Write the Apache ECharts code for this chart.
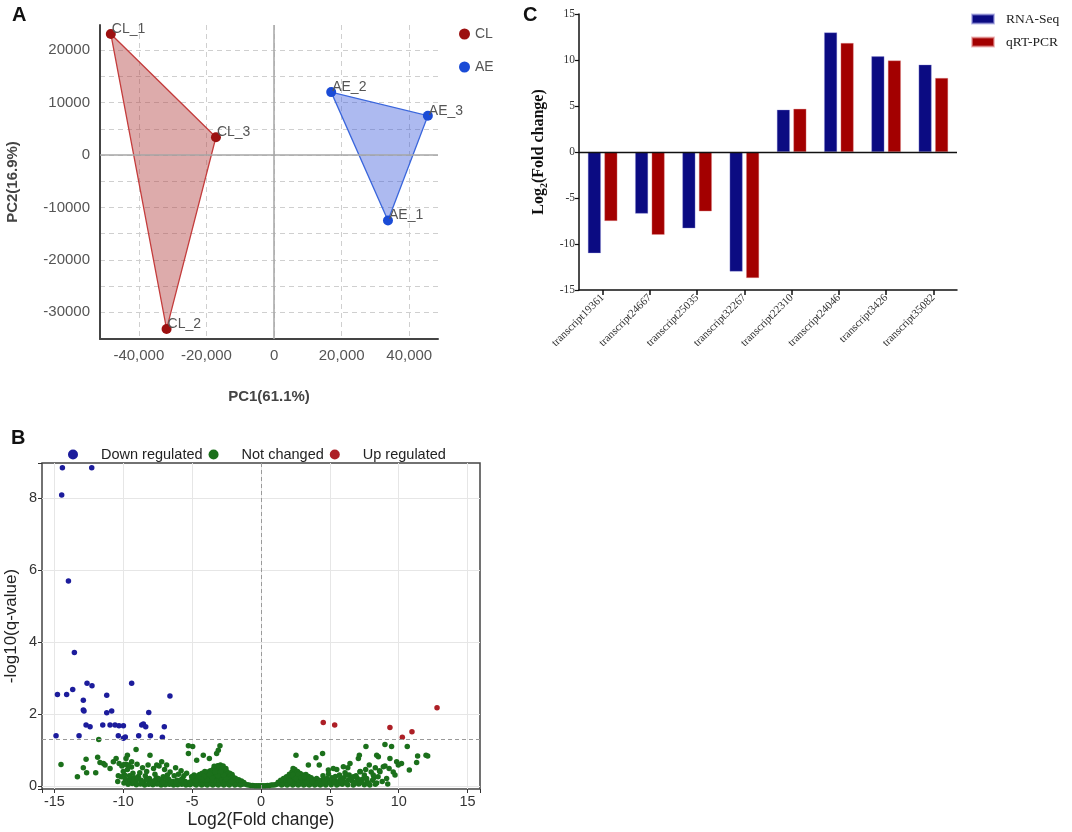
<!DOCTYPE html>
<html>
<head>
<meta charset="utf-8">
<title>PCA / volcano / qRT-PCR</title>
<script src="https://cdn.jsdelivr.net/npm/echarts@6.0.0/dist/echarts.min.js"></script>
<style>
  html, body { margin: 0; padding: 0; background: #fff; }
  #chart { width: 1072px; height: 832px; }
</style>
</head>
<body>
<div id="chart"></div>
<script>
// ---- A: PCA ----
var clNames = ['CL_1', 'CL_2', 'CL_3'];
var clPC1 = [-48300, -31800, -17200];
var clPC2 = [23100, -33200, 3400];
var aeNames = ['AE_1', 'AE_2', 'AE_3'];
var aePC1 = [33700, 16900, 45500];
var aePC2 = [-12500, 12000, 7500];

// ---- B: volcano ([log2FC, -log10 q]) ----
var downPts = [
  [-14.42, 8.85], [-12.29, 8.85], [-14.47, 8.09], [-13.98, 5.70], [-13.55, 3.71],
  [-14.78, 2.54], [-14.11, 2.54], [-13.67, 2.68], [-12.63, 2.85], [-12.27, 2.78],
  [-12.90, 2.38], [-12.90, 2.11], [-12.85, 2.08], [-11.20, 2.52], [-11.20, 2.03],
  [-10.84, 2.08], [-12.70, 1.69], [-12.41, 1.64], [-11.49, 1.69], [-10.96, 1.69],
  [-10.60, 1.69], [-10.31, 1.67], [-9.99, 1.67], [-10.36, 1.39], [-9.99, 1.32],
  [-9.85, 1.36], [-9.39, 2.85], [-8.66, 1.69], [-8.54, 1.72], [-8.37, 1.64],
  [-8.15, 2.04], [-8.88, 1.39], [-8.03, 1.39], [-7.02, 1.64], [-7.16, 1.35],
  [-6.61, 2.50], [-14.88, 1.39], [-13.21, 1.39]
];
var upPts = [
  [4.52, 1.76], [5.35, 1.69], [9.36, 1.62], [10.26, 1.35], [10.96, 1.50], [12.78, 2.17]
];
var notPts = [
  // near zero
  [-1.02, 0.03], [-0.88, 0.02], [-0.74, 0.01], [-0.6, 0.01], [-0.45, 0.0], [-0.3, 0.0],
  [-0.15, 0.0], [0.0, 0.0], [0.15, 0.0], [0.3, 0.0], [0.46, 0.01], [0.61, 0.01],
  [0.76, 0.02], [0.9, 0.02], [1.04, 0.03],
  // left cloud
  [-1.18, 0.05], [-1.25, 0.09], [-1.38, 0.04], [-1.42, 0.13], [-1.55, 0.07], [-1.62, 0.17],
  [-1.66, 0.1], [-1.79, 0.04], [-1.83, 0.13], [-1.86, 0.21], [-1.97, 0.06], [-2.03, 0.15],
  [-2.05, 0.25], [-2.1, 0.31], [-2.18, 0.09], [-2.22, 0.19], [-2.24, 0.28], [-2.27, 0.35],
  [-2.38, 0.04], [-2.41, 0.13], [-2.43, 0.23], [-2.45, 0.32], [-2.47, 0.39], [-2.58, 0.07],
  [-2.6, 0.17], [-2.63, 0.26], [-2.64, 0.36], [-2.66, 0.43], [-2.77, 0.05], [-2.79, 0.15],
  [-2.82, 0.24], [-2.84, 0.33], [-2.86, 0.45], [-2.9, 0.52], [-2.98, 0.09], [-3.01, 0.19],
  [-3.03, 0.29], [-3.05, 0.39], [-3.07, 0.47], [-3.18, 0.04], [-3.21, 0.13], [-3.23, 0.22],
  [-3.25, 0.33], [-3.26, 0.42], [-3.29, 0.49], [-3.39, 0.08], [-3.42, 0.17], [-3.44, 0.27],
  [-3.46, 0.37], [-3.48, 0.45], [-3.58, 0.05], [-3.61, 0.14], [-3.63, 0.25], [-3.65, 0.34],
  [-3.68, 0.42], [-3.79, 0.08], [-3.82, 0.18], [-3.84, 0.28], [-3.86, 0.38], [-3.98, 0.04],
  [-4.01, 0.12], [-4.03, 0.22], [-4.06, 0.31], [-4.08, 0.4], [-4.19, 0.07], [-4.22, 0.16],
  [-4.24, 0.26], [-4.27, 0.35], [-4.38, 0.05], [-4.41, 0.13], [-4.43, 0.23], [-4.46, 0.31],
  [-4.58, 0.08], [-4.61, 0.18], [-4.63, 0.27], [-4.78, 0.04], [-4.81, 0.12], [-4.83, 0.21],
  [-4.86, 0.3], [-4.98, 0.07], [-5.01, 0.16], [-5.04, 0.25],
  [-1.5, 0.02], [-1.9, 0.02], [-2.3, 0.02], [-2.7, 0.02], [-3.1, 0.02], [-3.5, 0.02],
  [-3.9, 0.02], [-4.3, 0.02], [-4.7, 0.02], [-2.15, 0.12], [-2.52, 0.2], [-2.72, 0.3],
  [-2.93, 0.38], [-3.13, 0.28], [-3.33, 0.38], [-3.53, 0.22], [-3.73, 0.32], [-3.93, 0.16],
  [-4.13, 0.26], [-4.33, 0.18], [-4.53, 0.22], [-4.73, 0.14], [-2.95, 0.58], [-2.75, 0.55],
  [-3.15, 0.56], [-3.4, 0.54], [-2.55, 0.48],
  // left sparse
  [-5.3, 0.05], [-5.5, 0.12], [-5.7, 0.2], [-5.9, 0.08], [-6.1, 0.15], [-6.3, 0.28],
  [-6.5, 0.06], [-6.7, 0.18], [-6.9, 0.1], [-7.1, 0.25], [-7.3, 0.05], [-7.5, 0.14],
  [-7.7, 0.32], [-7.9, 0.09], [-8.1, 0.2], [-8.3, 0.4], [-8.5, 0.06], [-8.7, 0.15],
  [-8.9, 0.26], [-9.1, 0.1], [-9.3, 0.35], [-9.5, 0.2], [-9.7, 0.45], [-9.9, 0.3],
  [-10.1, 0.55], [-5.4, 0.35], [-5.8, 0.42], [-6.2, 0.5], [-6.6, 0.38], [-7.0, 0.45],
  [-7.4, 0.55], [-7.8, 0.48], [-8.2, 0.58], [-8.6, 0.5], [-9.0, 0.6], [-9.4, 0.52],
  [-5.6, 0.28], [-6.0, 0.32], [-6.4, 0.12], [-6.8, 0.3], [-7.2, 0.16], [-7.6, 0.22],
  [-8.0, 0.12], [-8.4, 0.28], [-8.8, 0.36], [-9.2, 0.22], [-9.6, 0.14], [-10.0, 0.4],
  [-10.3, 0.62], [-9.8, 0.6],
  [-5.15, 0.03], [-5.45, 0.02], [-5.75, 0.04], [-6.05, 0.03], [-6.35, 0.02], [-6.65, 0.04],
  [-6.95, 0.03], [-7.25, 0.02], [-7.55, 0.05], [-7.85, 0.03], [-8.15, 0.04], [-8.45, 0.02],
  [-8.75, 0.05], [-9.05, 0.03], [-9.35, 0.06], [-9.65, 0.04], [-9.95, 0.08], [-5.2, 0.1],
  [-5.55, 0.08], [-5.85, 0.16], [-6.2, 0.1], [-6.55, 0.12], [-6.85, 0.2], [-7.15, 0.09],
  [-7.45, 0.2], [-7.75, 0.14], [-8.05, 0.07], [-8.35, 0.16], [-8.65, 0.1], [-8.95, 0.18],
  [-9.25, 0.12], [-9.55, 0.28], [-9.85, 0.18], [-10.15, 0.25], [-10.4, 0.12],
  [-11.78, 1.29], [-14.52, 0.59], [-13.33, 0.25], [-12.7, 0.74], [-12.9, 0.5], [-12.66, 0.36],
  [-12.0, 0.36], [-11.86, 0.79], [-11.69, 0.65], [-11.44, 0.62], [-11.32, 0.58], [-10.96, 0.48],
  [-10.72, 0.67], [-10.52, 0.76], [-10.36, 0.28], [-9.8, 0.76], [-9.7, 0.85], [-9.07, 1.01],
  [-9.39, 0.67], [-9.63, 0.58], [-9.94, 0.59], [-8.06, 0.85], [-5.27, 1.11], [-4.96, 1.09],
  [-2.98, 1.11], [-3.1, 0.99], [-3.22, 0.9], [-4.19, 0.85], [-3.75, 0.76], [-4.67, 0.71],
  [-5.27, 0.9], [-7.21, 0.67], [-7.57, 0.58], [-6.85, 0.58],
  // right cloud
  [1.18, 0.05], [1.25, 0.1], [1.38, 0.06], [1.43, 0.15], [1.57, 0.04], [1.6, 0.12],
  [1.64, 0.2], [1.78, 0.08], [1.82, 0.16], [1.85, 0.25], [1.97, 0.05], [2.01, 0.14],
  [2.03, 0.24], [2.06, 0.32], [2.17, 0.08], [2.2, 0.18], [2.22, 0.28], [2.25, 0.38],
  [2.37, 0.04], [2.4, 0.12], [2.42, 0.22], [2.44, 0.34], [2.46, 0.45], [2.57, 0.07],
  [2.6, 0.17], [2.62, 0.27], [2.65, 0.4], [2.77, 0.05], [2.8, 0.14], [2.83, 0.24],
  [2.85, 0.34], [2.98, 0.08], [3.01, 0.18], [3.04, 0.3], [3.18, 0.04], [3.21, 0.12],
  [3.23, 0.22], [3.26, 0.31], [3.39, 0.07], [3.42, 0.16], [3.45, 0.26], [3.58, 0.05],
  [3.61, 0.14], [3.64, 0.22], [3.79, 0.08], [3.82, 0.17], [3.98, 0.04], [4.01, 0.12],
  [4.04, 0.2], [4.19, 0.07], [4.22, 0.15],
  [1.5, 0.02], [1.9, 0.02], [2.3, 0.02], [2.7, 0.02], [3.1, 0.02], [3.5, 0.02],
  [3.9, 0.02], [4.3, 0.02], [4.7, 0.02], [5.1, 0.03], [5.5, 0.02], [5.9, 0.04],
  [6.3, 0.03], [6.7, 0.02], [7.1, 0.05], [7.5, 0.03], [7.9, 0.02], [8.3, 0.04],
  [2.12, 0.12], [2.32, 0.3], [2.52, 0.2], [2.33, 0.48], [2.7, 0.32], [2.92, 0.22],
  [3.12, 0.26], [3.32, 0.1], [3.52, 0.18], [3.72, 0.12], [4.12, 0.08], [4.32, 0.12],
  [4.55, 0.18], [4.7, 0.08], [4.95, 0.14], [5.15, 0.22], [5.45, 0.12], [5.75, 0.18],
  [6.05, 0.1], [6.35, 0.16], [6.75, 0.1], [7.05, 0.12], [7.35, 0.18], [7.7, 0.12],
  [8.2, 0.22], [8.5, 0.25],
  // right sparse
  [4.4, 0.05], [4.6, 0.12], [4.8, 0.2], [5.0, 0.08], [5.2, 0.16], [5.4, 0.26],
  [5.6, 0.05], [5.8, 0.12], [6.0, 0.22], [6.2, 0.08], [6.4, 0.3], [6.6, 0.14],
  [6.8, 0.06], [7.0, 0.2], [4.5, 0.28], [4.9, 0.33], [5.3, 0.1], [5.7, 0.3],
  [6.1, 0.36], [6.5, 0.18], [6.9, 0.28], [7.3, 0.1], [7.5, 0.3], [7.8, 0.06],
  [8.1, 0.15], [8.4, 0.08], [8.8, 0.12], [9.2, 0.05], [7.2, 0.4], [7.6, 0.45],
  [8.0, 0.38], [8.3, 0.5], [8.6, 0.42], [9.0, 0.55], [9.3, 0.48], [9.6, 0.38],
  [10.2, 0.62], [5.5, 0.45], [6.3, 0.5],
  [2.54, 0.85], [3.99, 0.78], [4.47, 0.9], [4.23, 0.58], [3.44, 0.58], [4.89, 0.44],
  [5.25, 0.48], [5.98, 0.53], [6.46, 0.62], [7.07, 0.76], [7.62, 1.09], [7.14, 0.85],
  [7.86, 0.58], [8.4, 0.85], [8.52, 0.81], [9.0, 1.15], [9.48, 1.09], [9.36, 0.76],
  [8.88, 0.53], [9.85, 0.67], [9.97, 0.58], [9.73, 0.3], [10.62, 1.09], [10.77, 0.44],
  [11.37, 0.83], [11.3, 0.65], [11.98, 0.85], [12.1, 0.83], [8.64, 0.39], [8.15, 0.3],
  [7.19, 0.39], [6.7, 0.25], [6.22, 0.3], [7.67, 0.2], [9.12, 0.2]
];
var qCutoff = 1.3;

// ---- C: validation ----
var transcripts = ['transcript19361', 'transcript24667', 'transcript25035', 'transcript32267',
  'transcript22310', 'transcript24046', 'transcript3426', 'transcript35082'];
var rnaSeq = [-11.0, -6.7, -8.3, -13.0, 4.6, 13.0, 10.4, 9.5];
var qrtPcr = [-7.5, -9.0, -6.45, -13.7, 4.7, 11.85, 9.95, 8.05];

var sans = 'Liberation Sans';
var serif = 'Liberation Serif';

function near(v, step) {
  return Math.abs(v - Math.round(v / step) * step) < 1e-6;
}

// 多边形（凸包）
function hull(xs, ys, fill, stroke) {
  return function (params, api) {
    if (params.dataIndex !== 0) return;
    var pts = xs.map(function (x, i) { return api.coord([x, ys[i]]); });
    return {
      type: 'polygon',
      shape: { points: pts },
      style: { fill: fill, stroke: stroke, lineWidth: 1.3 }
    };
  };
}

function pairs(xs, ys, names) {
  return xs.map(function (x, i) { return { name: names[i], value: [x, ys[i]] }; });
}

var myChart = echarts.init(document.getElementById('chart'));
var option = {
  animation: false,
  backgroundColor: '#fff',
  title: [
    { text: 'A', left: 7, top: 0, textStyle: { fontFamily: sans, fontSize: 20, fontWeight: 'bold', color: '#111' } },
    { text: 'B', left: 6, top: 423, textStyle: { fontFamily: sans, fontSize: 20, fontWeight: 'bold', color: '#111' } },
    { text: 'C', left: 518, top: 0, textStyle: { fontFamily: sans, fontSize: 20, fontWeight: 'bold', color: '#111' } }
  ],
  legend: [
    {
      data: ['CL', 'AE'], orient: 'vertical', left: 454, top: 22, icon: 'circle',
      itemWidth: 11, itemHeight: 11, itemGap: 19, selectedMode: false,
      textStyle: { fontFamily: sans, fontSize: 14, color: '#555' }
    },
    {
      data: ['Down regulated', 'Not changed', 'Up regulated'], left: 63, top: 442, icon: 'circle',
      itemWidth: 10, itemHeight: 10, itemGap: 6, selectedMode: false,
      textStyle: { fontFamily: sans, fontSize: 14.5, color: '#222', padding: [0, 0, 0, 18] }
    },
    {
      data: ['RNA-Seq', 'qRT-PCR'], orient: 'vertical', left: 966, top: 7, icon: 'rect',
      itemWidth: 22, itemHeight: 9, itemGap: 9, selectedMode: false,
      textStyle: { fontFamily: serif, fontSize: 13.5, color: '#222', padding: [0, 0, 0, 7] }
    }
  ],
  grid: [
    { left: 100, top: 25, width: 338, height: 314 },
    { left: 42, top: 463, width: 438, height: 326, show: true, borderColor: '#444', borderWidth: 1.5, backgroundColor: '#fff' },
    { left: 579, top: 14, width: 378, height: 276 }
  ],
  xAxis: [
    {
      gridIndex: 0, type: 'value', min: -51500, max: 48500, splitNumber: 5,
      name: 'PC1(61.1%)', nameLocation: 'middle', nameGap: 50,
      nameTextStyle: { fontFamily: sans, fontSize: 15, fontWeight: 'bold', color: '#444' },
      axisLine: { show: true, onZero: false, lineStyle: { color: '#444', width: 2 } },
      axisTick: { show: false },
      axisLabel: {
        fontFamily: sans, fontSize: 15, color: '#555', margin: 9,
        formatter: function (v) { return near(v, 20000) ? v.toLocaleString('en-US') : ''; }
      },
      splitLine: { show: true, showMinLine: false, showMaxLine: false, lineStyle: { color: '#cfcfcf', type: [5, 4] } }
    },
    {
      gridIndex: 1, type: 'value', min: -15.9, max: 15.9, splitNumber: 6,
      name: 'Log2(Fold change)', nameLocation: 'middle', nameGap: 22,
      nameTextStyle: { fontFamily: sans, fontSize: 17.5, color: '#222' },
      axisLine: { show: false, onZero: false },
      axisTick: { show: true, length: 4, lineStyle: { color: '#333' } },
      axisLabel: {
        fontFamily: sans, fontSize: 14.5, color: '#333', margin: 5,
        formatter: function (v) { return near(v, 5) ? String(Math.round(v)) : ''; }
      },
      splitLine: { show: true, showMinLine: false, showMaxLine: false, lineStyle: { color: '#e6e6e6' } }
    },
    {
      gridIndex: 2, type: 'category', data: transcripts, position: 'bottom',
      axisLine: { show: true, onZero: false, lineStyle: { color: '#111', width: 1.5 } },
      axisTick: { show: true, alignWithLabel: true, length: 5, lineStyle: { color: '#111', width: 1.5 } },
      axisLabel: { fontFamily: serif, fontSize: 11, color: '#333', rotate: 45, margin: 6, interval: 0 },
      splitLine: { show: false }
    }
  ],
  yAxis: [
    {
      gridIndex: 0, type: 'value', min: -35100, max: 24800, splitNumber: 12,
      name: 'PC2(16.9%)', nameLocation: 'middle', nameGap: 80,
      nameTextStyle: { fontFamily: sans, fontSize: 15, fontWeight: 'bold', color: '#444' },
      axisLine: { show: true, onZero: false, lineStyle: { color: '#444', width: 2 } },
      axisTick: { show: false },
      axisLabel: {
        fontFamily: sans, fontSize: 15, color: '#555', margin: 10,
        formatter: function (v) { return near(v, 10000) ? String(v) : ''; }
      },
      splitLine: { show: true, showMinLine: false, showMaxLine: false, lineStyle: { color: '#cfcfcf', type: [5, 4] } }
    },
    {
      gridIndex: 1, type: 'value', min: -0.09, max: 8.98, splitNumber: 4,
      name: '-log10(q-value)', nameLocation: 'middle', nameGap: 22,
      nameTextStyle: { fontFamily: sans, fontSize: 17, color: '#222' },
      axisLine: { show: false, onZero: false },
      axisTick: { show: true, length: 4, lineStyle: { color: '#333' } },
      axisLabel: {
        fontFamily: sans, fontSize: 14.5, color: '#333', margin: 5,
        formatter: function (v) { return near(v, 2) ? String(Math.round(v)) : ''; }
      },
      splitLine: { show: true, showMinLine: false, showMaxLine: false, lineStyle: { color: '#e6e6e6' } }
    },
    {
      gridIndex: 2, type: 'value', min: -15, max: 15, interval: 5,
      name: '{a|Log}{s|2}{a|(Fold change)}', nameLocation: 'middle', nameGap: 30,
      nameTextStyle: {
        rich: {
          a: { fontFamily: serif, fontSize: 16, fontWeight: 'bold', color: '#111', lineHeight: 20 },
          s: { fontFamily: serif, fontSize: 10, fontWeight: 'bold', color: '#111', verticalAlign: 'bottom', lineHeight: 10 }
        }
      },
      axisLine: { show: true, lineStyle: { color: '#111', width: 1.5 } },
      axisTick: { show: true, length: 4, lineStyle: { color: '#111', width: 1.2 } },
      axisLabel: { fontFamily: serif, fontSize: 11.5, color: '#333', margin: 4 },
      splitLine: { show: false }
    }
  ],
  series: [
    // A
    {
      type: 'custom', xAxisIndex: 0, yAxisIndex: 0, silent: true, z: 1,
      renderItem: hull(clPC1, clPC2, 'rgba(180,68,68,0.45)', '#c43c3c'),
      data: pairs(clPC1, clPC2, clNames)
    },
    {
      type: 'custom', xAxisIndex: 0, yAxisIndex: 0, silent: true, z: 1,
      renderItem: hull(aePC1, aePC2, 'rgba(60,90,220,0.42)', '#3a66dc'),
      data: pairs(aePC1, aePC2, aeNames)
    },
    {
      name: 'CL', type: 'scatter', xAxisIndex: 0, yAxisIndex: 0, z: 3,
      symbolSize: 10, itemStyle: { color: '#9c1010', opacity: 1 },
      label: { show: true, formatter: '{b}', position: 'right', distance: -4, offset: [0, -5], fontFamily: sans, fontSize: 14, color: '#555' },
      data: pairs(clPC1, clPC2, clNames),
      markLine: {
        silent: true, symbol: 'none', label: { show: false },
        lineStyle: { color: '#a6a6a6', type: 'solid', width: 1.5 },
        data: [{ xAxis: 0 }, { yAxis: 0 }]
      }
    },
    {
      name: 'AE', type: 'scatter', xAxisIndex: 0, yAxisIndex: 0, z: 3,
      symbolSize: 10, itemStyle: { color: '#1a4bd6', opacity: 1 },
      label: { show: true, formatter: '{b}', position: 'right', distance: -4, offset: [0, -5], fontFamily: sans, fontSize: 14, color: '#555' },
      data: pairs(aePC1, aePC2, aeNames)
    },
    // B
    {
      name: 'Not changed', type: 'scatter', xAxisIndex: 1, yAxisIndex: 1,
      symbolSize: 5.5, itemStyle: { color: '#1b701b', opacity: 1 },
      data: notPts,
      markLine: {
        silent: true, symbol: 'none', label: { show: false },
        lineStyle: { color: '#9a9a9a', type: [4, 3], width: 1 },
        data: [{ xAxis: 0 }, { yAxis: qCutoff }]
      }
    },
    {
      name: 'Down regulated', type: 'scatter', xAxisIndex: 1, yAxisIndex: 1,
      symbolSize: 5.5, itemStyle: { color: '#1c1c9c', opacity: 1 },
      data: downPts
    },
    {
      name: 'Up regulated', type: 'scatter', xAxisIndex: 1, yAxisIndex: 1,
      symbolSize: 5.5, itemStyle: { color: '#ad1f26', opacity: 1 },
      data: upPts
    },
    // C
    {
      name: 'RNA-Seq', type: 'bar', xAxisIndex: 2, yAxisIndex: 2,
      barWidth: 13, barGap: '27%',
      itemStyle: { color: '#0b0b82', borderColor: 'rgba(150,150,220,0.6)', borderWidth: 0.6 },
      data: rnaSeq,
      markLine: {
        silent: true, symbol: 'none', label: { show: false },
        lineStyle: { color: '#111', type: 'solid', width: 1.3 },
        data: [{ yAxis: 0 }]
      }
    },
    {
      name: 'qRT-PCR', type: 'bar', xAxisIndex: 2, yAxisIndex: 2,
      barWidth: 13, barGap: '27%',
      itemStyle: { color: '#a30000', borderColor: 'rgba(230,150,150,0.6)', borderWidth: 0.6 },
      data: qrtPcr
    }
  ]
};
myChart.setOption(option);
window.addEventListener('resize', function () {
  myChart.resize();
});
</script>
</body>
</html>
